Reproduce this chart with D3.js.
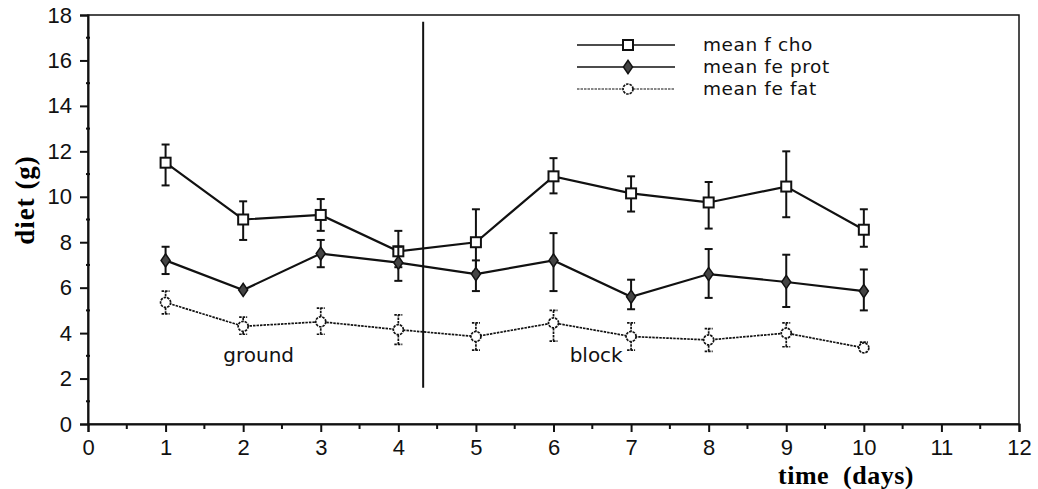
<!DOCTYPE html>
<html>
<head>
<meta charset="utf-8">
<script src="https://cdn.jsdelivr.net/npm/d3@7"></script>
<style>
  body { margin: 0; background: #fff; }
  svg { display: block; }
</style>
</head>
<body>
<div id="chart"></div>
<script>
// days
const days = [1, 2, 3, 4, 5, 6, 7, 8, 9, 10];

// mean f cho (mean, low, high of error bar)
const choMean = [11.5, 9.0, 9.2, 7.6, 8.0, 10.9, 10.15, 9.75, 10.45, 8.55];
const choLow  = [10.5, 8.1, 8.5, 6.9, 6.7, 10.15, 9.35, 8.6, 9.1, 7.8];
const choHigh = [12.3, 9.8, 9.9, 8.5, 9.45, 11.7, 10.9, 10.65, 12.0, 9.45];

// mean fe prot
const protMean = [7.2, 5.9, 7.5, 7.1, 6.6, 7.2, 5.6, 6.6, 6.25, 5.85];
const protLow  = [6.6, 5.9, 6.9, 6.3, 5.85, 5.85, 5.05, 5.55, 5.15, 5.0];
const protHigh = [7.8, 5.9, 8.1, 7.8, 7.2, 8.4, 6.35, 7.7, 7.45, 6.8];

// mean fe fat
const fatMean = [5.35, 4.3, 4.5, 4.15, 3.85, 4.45, 3.85, 3.7, 4.0, 3.35];
const fatLow  = [4.85, 3.95, 3.95, 3.5, 3.25, 3.65, 3.25, 3.2, 3.4, 3.2];
const fatHigh = [5.85, 4.7, 5.1, 4.8, 4.45, 5.0, 4.45, 4.2, 4.45, 3.6];

const xTicks = [0, 1, 2, 3, 4, 5, 6, 7, 8, 9, 10, 11, 12];
const yTicks = [0, 2, 4, 6, 8, 10, 12, 14, 16, 18];

const seriesNames = ["mean f cho", "mean fe prot", "mean fe fat"];

// divider between phases
const dividerX = 4.32;
const dividerY = [1.6, 17.7];
const phaseLabels = [
  { text: "ground", x: 2.2, y: 2.75 },
  { text: "block", x: 6.55, y: 2.75 }
];

const width = 1038;
const height = 489;
const margin = { top: 15, right: 19, bottom: 65, left: 88 };

const svg = d3.select("#chart")
  .append("svg")
  .attr("width", width)
  .attr("height", height);

const x = d3.scaleLinear()
  .domain([0, 12])
  .range([margin.left, width - margin.right]);

const y = d3.scaleLinear()
  .domain([0, 18])
  .range([height - margin.bottom, margin.top]);

const font = "'Liberation Sans', Arial, sans-serif";
const wideFont = "'DejaVu Sans', Verdana, sans-serif";
const serif = "'Liberation Serif', 'Times New Roman', serif";

// frame
svg.append("rect")
  .attr("x", x(0))
  .attr("y", y(18))
  .attr("width", x(12) - x(0))
  .attr("height", y(0) - y(18))
  .style("fill", "none")
  .style("stroke", "#111")
  .style("stroke-width", 1.5);

// x axis
const xAxis = svg.append("g")
  .attr("transform", `translate(0, ${y(0)})`)
  .call(
    d3.axisBottom(x)
      .tickValues(xTicks)
      .tickFormat(d3.format("d"))
      .tickSize(8)
      .tickPadding(7)
  );

// x minor ticks
svg.append("g")
  .selectAll("line")
  .data(d3.range(0.5, 12, 1))
  .enter()
  .append("line")
  .attr("x1", d => x(d))
  .attr("x2", d => x(d))
  .attr("y1", y(0))
  .attr("y2", y(0) + 5)
  .style("stroke", "#111")
  .style("stroke-width", 2);

// y axis
const yAxis = svg.append("g")
  .attr("transform", `translate(${x(0)}, 0)`)
  .call(
    d3.axisLeft(y)
      .tickValues(yTicks)
      .tickFormat(d3.format("d"))
      .tickSize(8)
      .tickPadding(8)
  );

// y minor ticks
svg.append("g")
  .selectAll("line")
  .data(d3.range(1, 18, 1).filter(d => d % 2 === 1))
  .enter()
  .append("line")
  .attr("x1", x(0) - 2)
  .attr("x2", x(0) + 2)
  .attr("y1", d => y(d))
  .attr("y2", d => y(d))
  .style("stroke", "#111")
  .style("stroke-width", 2);

[xAxis, yAxis].forEach(g => {
  g.select(".domain").style("stroke", "#111").style("stroke-width", 2);
  g.selectAll(".tick line").style("stroke", "#111").style("stroke-width", 2);
  g.selectAll(".tick text")
    .style("font-family", font)
    .style("font-size", "22px")
    .style("fill", "#111");
});

// axis titles
svg.append("text")
  .attr("transform", "translate(34, 200) rotate(-90)")
  .attr("text-anchor", "middle")
  .style("font-family", serif)
  .style("font-weight", "bold")
  .style("font-size", "27px")
  .style("letter-spacing", "1px")
  .text("diet (g)");

svg.append("text")
  .attr("x", 846)
  .attr("y", 484)
  .attr("text-anchor", "middle")
  .style("font-family", serif)
  .style("font-weight", "bold")
  .style("font-size", "26px")
  .style("letter-spacing", "0.5px")
  .style("word-spacing", "7px")
  .text("time (days)");

// divider
svg.append("line")
  .attr("x1", x(dividerX))
  .attr("x2", x(dividerX))
  .attr("y1", y(dividerY[0]))
  .attr("y2", y(dividerY[1]))
  .style("stroke", "#111")
  .style("stroke-width", 2);

svg.selectAll(".phase")
  .data(phaseLabels)
  .enter()
  .append("text")
  .attr("class", "phase")
  .attr("x", d => x(d.x))
  .attr("y", d => y(d.y))
  .attr("text-anchor", "middle")
  .style("font-family", wideFont)
  .style("font-size", "20px")
  .style("fill", "#111")
  .text(d => d.text);

// series
const series = [
  { name: seriesNames[0], mean: choMean, low: choLow, high: choHigh,
    stroke: "#111", width: 2.2, dash: null, marker: "square" },
  { name: seriesNames[1], mean: protMean, low: protLow, high: protHigh,
    stroke: "#111", width: 2.2, dash: null, marker: "diamond" },
  { name: seriesNames[2], mean: fatMean, low: fatLow, high: fatHigh,
    stroke: "#111", width: 1.7, dash: "2.5,1", marker: "circle" }
];

const line = d3.line()
  .x(d => x(d[0]))
  .y(d => y(d[1]));

function drawMarker(g, type, cx, cy) {
  if (type === "square") {
    g.append("rect")
      .attr("x", cx - 5)
      .attr("y", cy - 5)
      .attr("width", 10)
      .attr("height", 10)
      .style("fill", "#fff")
      .style("stroke", "#111")
      .style("stroke-width", 2);
  } else if (type === "diamond") {
    g.append("path")
      .attr("d", d3.symbol().type(d3.symbolDiamond).size(50)())
      .attr("transform", `translate(${cx}, ${cy}) scale(1.2, 1)`)
      .style("fill", "#444")
      .style("stroke", "#111")
      .style("stroke-width", 1.3);
  } else {
    g.append("circle")
      .attr("cx", cx)
      .attr("cy", cy)
      .attr("r", 5)
      .style("fill", "#fff")
      .style("stroke", "#111")
      .style("stroke-width", 1.7)
      .style("stroke-dasharray", "2.5,1");
  }
}

series.forEach(s => {
  const g = svg.append("g");
  const pts = days.map((d, i) => [d, s.mean[i]]);

  // error bars
  days.forEach((d, i) => {
    if (s.high[i] - s.low[i] < 0.05) return;
    const eb = g.append("g")
      .style("stroke", s.stroke)
      .style("stroke-width", s.dash ? 1.7 : 2)
      .style("stroke-dasharray", s.dash);
    eb.append("line")
      .attr("x1", x(d)).attr("x2", x(d))
      .attr("y1", y(s.low[i])).attr("y2", y(s.high[i]));
    [s.low[i], s.high[i]].forEach(v => {
      eb.append("line")
        .attr("x1", x(d) - 4).attr("x2", x(d) + 4)
        .attr("y1", y(v)).attr("y2", y(v));
    });
  });

  g.append("path")
    .datum(pts)
    .attr("d", line)
    .style("fill", "none")
    .style("stroke", s.stroke)
    .style("stroke-width", s.width)
    .style("stroke-dasharray", s.dash);

  pts.forEach(p => drawMarker(g, s.marker, x(p[0]), y(p[1])));
});

// legend
const legend = svg.append("g");
const legendRows = [45, 67, 89];

series.forEach((s, i) => {
  const ly = legendRows[i];
  legend.append("line")
    .attr("x1", 577)
    .attr("x2", 675)
    .attr("y1", ly)
    .attr("y2", ly)
    .style("stroke", s.stroke)
    .style("stroke-width", s.width - 0.5)
    .style("stroke-dasharray", s.dash);
  drawMarker(legend, s.marker, 628, ly);
  legend.append("text")
    .attr("x", 703)
    .attr("y", ly + 6)
    .style("font-family", wideFont)
    .style("font-size", "18.5px")
    .style("letter-spacing", "0.6px")
    .style("fill", "#111")
    .text(s.name);
});
</script>
</body>
</html>
